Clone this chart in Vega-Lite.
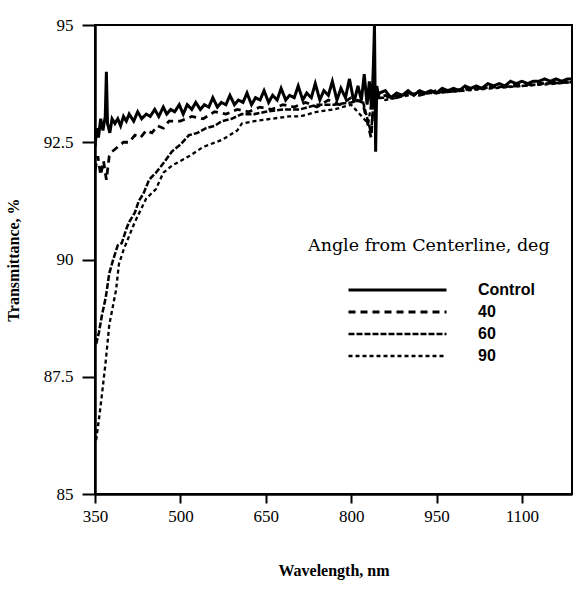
{
  "$schema": "https://vega.github.io/schema/vega-lite/v6.json",
  "width": 477,
  "height": 469,
  "autosize": {"type": "none"},
  "padding": {"left": 95, "top": 25, "right": 3, "bottom": 103},
  "background": "white",
  "config": {
    "view": {"stroke": "black", "strokeWidth": 2},
    "axis": {"grid": false, "domainColor": "black", "domainWidth": 2.5, "tickColor": "black", "tickWidth": 2, "labelColor": "black", "titleColor": "black", "labelFont": "Liberation Serif", "titleFont": "Liberation Serif"}
  },
  "data": {"values": [
    {"w": 350, "t": 92.4, "s": "Control"},
    {"w": 353, "t": 92.8, "s": "Control"},
    {"w": 356, "t": 92.6, "s": "Control"},
    {"w": 360, "t": 93.0, "s": "Control"},
    {"w": 364, "t": 92.75, "s": "Control"},
    {"w": 368, "t": 93.05, "s": "Control"},
    {"w": 370, "t": 94.0, "s": "Control"},
    {"w": 372, "t": 92.9, "s": "Control"},
    {"w": 376, "t": 92.7, "s": "Control"},
    {"w": 380, "t": 93.0, "s": "Control"},
    {"w": 385, "t": 92.9, "s": "Control"},
    {"w": 390, "t": 93.0, "s": "Control"},
    {"w": 395, "t": 92.85, "s": "Control"},
    {"w": 400, "t": 93.05, "s": "Control"},
    {"w": 405, "t": 92.95, "s": "Control"},
    {"w": 410, "t": 93.1, "s": "Control"},
    {"w": 418, "t": 92.95, "s": "Control"},
    {"w": 425, "t": 93.15, "s": "Control"},
    {"w": 432, "t": 93.0, "s": "Control"},
    {"w": 440, "t": 93.1, "s": "Control"},
    {"w": 447, "t": 93.05, "s": "Control"},
    {"w": 455, "t": 93.2, "s": "Control"},
    {"w": 462, "t": 93.05, "s": "Control"},
    {"w": 470, "t": 93.25, "s": "Control"},
    {"w": 476, "t": 93.1, "s": "Control"},
    {"w": 483, "t": 93.2, "s": "Control"},
    {"w": 490, "t": 93.15, "s": "Control"},
    {"w": 498, "t": 93.3, "s": "Control"},
    {"w": 505, "t": 93.1, "s": "Control"},
    {"w": 512, "t": 93.3, "s": "Control"},
    {"w": 520, "t": 93.2, "s": "Control"},
    {"w": 527, "t": 93.35, "s": "Control"},
    {"w": 535, "t": 93.2, "s": "Control"},
    {"w": 542, "t": 93.3, "s": "Control"},
    {"w": 550, "t": 93.25, "s": "Control"},
    {"w": 557, "t": 93.45, "s": "Control"},
    {"w": 565, "t": 93.25, "s": "Control"},
    {"w": 572, "t": 93.35, "s": "Control"},
    {"w": 580, "t": 93.3, "s": "Control"},
    {"w": 587, "t": 93.5, "s": "Control"},
    {"w": 595, "t": 93.3, "s": "Control"},
    {"w": 602, "t": 93.4, "s": "Control"},
    {"w": 610, "t": 93.35, "s": "Control"},
    {"w": 617, "t": 93.55, "s": "Control"},
    {"w": 625, "t": 93.3, "s": "Control"},
    {"w": 632, "t": 93.45, "s": "Control"},
    {"w": 640, "t": 93.4, "s": "Control"},
    {"w": 647, "t": 93.6, "s": "Control"},
    {"w": 655, "t": 93.35, "s": "Control"},
    {"w": 662, "t": 93.5, "s": "Control"},
    {"w": 670, "t": 93.4, "s": "Control"},
    {"w": 677, "t": 93.65, "s": "Control"},
    {"w": 685, "t": 93.4, "s": "Control"},
    {"w": 692, "t": 93.5, "s": "Control"},
    {"w": 700, "t": 93.45, "s": "Control"},
    {"w": 707, "t": 93.7, "s": "Control"},
    {"w": 715, "t": 93.4, "s": "Control"},
    {"w": 722, "t": 93.55, "s": "Control"},
    {"w": 730, "t": 93.45, "s": "Control"},
    {"w": 737, "t": 93.75, "s": "Control"},
    {"w": 745, "t": 93.4, "s": "Control"},
    {"w": 752, "t": 93.6, "s": "Control"},
    {"w": 760, "t": 93.5, "s": "Control"},
    {"w": 767, "t": 93.8, "s": "Control"},
    {"w": 775, "t": 93.4, "s": "Control"},
    {"w": 782, "t": 93.65, "s": "Control"},
    {"w": 790, "t": 93.45, "s": "Control"},
    {"w": 797, "t": 93.85, "s": "Control"},
    {"w": 805, "t": 93.35, "s": "Control"},
    {"w": 812, "t": 93.7, "s": "Control"},
    {"w": 818, "t": 93.4, "s": "Control"},
    {"w": 823, "t": 93.95, "s": "Control"},
    {"w": 828, "t": 93.3, "s": "Control"},
    {"w": 832, "t": 93.8, "s": "Control"},
    {"w": 836, "t": 93.2, "s": "Control"},
    {"w": 839, "t": 94.1, "s": "Control"},
    {"w": 841, "t": 95.0, "s": "Control"},
    {"w": 843, "t": 92.3, "s": "Control"},
    {"w": 845, "t": 93.7, "s": "Control"},
    {"w": 848, "t": 93.5, "s": "Control"},
    {"w": 850, "t": 93.55, "s": "Control"},
    {"w": 860, "t": 93.6, "s": "Control"},
    {"w": 870, "t": 93.45, "s": "Control"},
    {"w": 880, "t": 93.55, "s": "Control"},
    {"w": 890, "t": 93.5, "s": "Control"},
    {"w": 900, "t": 93.6, "s": "Control"},
    {"w": 910, "t": 93.5, "s": "Control"},
    {"w": 920, "t": 93.6, "s": "Control"},
    {"w": 930, "t": 93.55, "s": "Control"},
    {"w": 940, "t": 93.6, "s": "Control"},
    {"w": 950, "t": 93.55, "s": "Control"},
    {"w": 960, "t": 93.65, "s": "Control"},
    {"w": 970, "t": 93.6, "s": "Control"},
    {"w": 980, "t": 93.65, "s": "Control"},
    {"w": 990, "t": 93.6, "s": "Control"},
    {"w": 1000, "t": 93.7, "s": "Control"},
    {"w": 1010, "t": 93.65, "s": "Control"},
    {"w": 1020, "t": 93.7, "s": "Control"},
    {"w": 1030, "t": 93.65, "s": "Control"},
    {"w": 1040, "t": 93.75, "s": "Control"},
    {"w": 1050, "t": 93.7, "s": "Control"},
    {"w": 1060, "t": 93.75, "s": "Control"},
    {"w": 1070, "t": 93.7, "s": "Control"},
    {"w": 1080, "t": 93.8, "s": "Control"},
    {"w": 1090, "t": 93.75, "s": "Control"},
    {"w": 1100, "t": 93.8, "s": "Control"},
    {"w": 1110, "t": 93.75, "s": "Control"},
    {"w": 1120, "t": 93.8, "s": "Control"},
    {"w": 1130, "t": 93.8, "s": "Control"},
    {"w": 1140, "t": 93.85, "s": "Control"},
    {"w": 1150, "t": 93.8, "s": "Control"},
    {"w": 1160, "t": 93.85, "s": "Control"},
    {"w": 1170, "t": 93.8, "s": "Control"},
    {"w": 1180, "t": 93.85, "s": "Control"},
    {"w": 1188, "t": 93.85, "s": "Control"},

    {"w": 350, "t": 91.9, "s": "40"},
    {"w": 355, "t": 92.2, "s": "40"},
    {"w": 360, "t": 91.8, "s": "40"},
    {"w": 365, "t": 92.1, "s": "40"},
    {"w": 370, "t": 91.7, "s": "40"},
    {"w": 375, "t": 92.2, "s": "40"},
    {"w": 380, "t": 92.3, "s": "40"},
    {"w": 390, "t": 92.4, "s": "40"},
    {"w": 400, "t": 92.5, "s": "40"},
    {"w": 410, "t": 92.5, "s": "40"},
    {"w": 420, "t": 92.65, "s": "40"},
    {"w": 430, "t": 92.6, "s": "40"},
    {"w": 440, "t": 92.75, "s": "40"},
    {"w": 450, "t": 92.7, "s": "40"},
    {"w": 460, "t": 92.85, "s": "40"},
    {"w": 470, "t": 92.8, "s": "40"},
    {"w": 480, "t": 92.95, "s": "40"},
    {"w": 500, "t": 92.95, "s": "40"},
    {"w": 520, "t": 93.05, "s": "40"},
    {"w": 540, "t": 93.0, "s": "40"},
    {"w": 560, "t": 93.15, "s": "40"},
    {"w": 580, "t": 93.1, "s": "40"},
    {"w": 600, "t": 93.2, "s": "40"},
    {"w": 620, "t": 93.15, "s": "40"},
    {"w": 640, "t": 93.25, "s": "40"},
    {"w": 660, "t": 93.2, "s": "40"},
    {"w": 680, "t": 93.3, "s": "40"},
    {"w": 700, "t": 93.25, "s": "40"},
    {"w": 720, "t": 93.35, "s": "40"},
    {"w": 740, "t": 93.25, "s": "40"},
    {"w": 760, "t": 93.4, "s": "40"},
    {"w": 780, "t": 93.3, "s": "40"},
    {"w": 800, "t": 93.45, "s": "40"},
    {"w": 820, "t": 93.35, "s": "40"},
    {"w": 835, "t": 92.6, "s": "40"},
    {"w": 840, "t": 93.5, "s": "40"},
    {"w": 850, "t": 93.45, "s": "40"},
    {"w": 860, "t": 93.5, "s": "40"},
    {"w": 880, "t": 93.45, "s": "40"},
    {"w": 900, "t": 93.55, "s": "40"},
    {"w": 920, "t": 93.5, "s": "40"},
    {"w": 950, "t": 93.6, "s": "40"},
    {"w": 980, "t": 93.6, "s": "40"},
    {"w": 1000, "t": 93.65, "s": "40"},
    {"w": 1030, "t": 93.65, "s": "40"},
    {"w": 1060, "t": 93.7, "s": "40"},
    {"w": 1100, "t": 93.72, "s": "40"},
    {"w": 1130, "t": 93.75, "s": "40"},
    {"w": 1160, "t": 93.78, "s": "40"},
    {"w": 1188, "t": 93.8, "s": "40"},

    {"w": 352, "t": 88.2, "s": "60"},
    {"w": 357, "t": 88.45, "s": "60"},
    {"w": 362, "t": 88.8, "s": "60"},
    {"w": 369, "t": 89.2, "s": "60"},
    {"w": 375, "t": 89.7, "s": "60"},
    {"w": 382, "t": 90.0, "s": "60"},
    {"w": 390, "t": 90.3, "s": "60"},
    {"w": 397, "t": 90.35, "s": "60"},
    {"w": 405, "t": 90.65, "s": "60"},
    {"w": 410, "t": 90.8, "s": "60"},
    {"w": 420, "t": 91.0, "s": "60"},
    {"w": 427, "t": 91.25, "s": "60"},
    {"w": 435, "t": 91.4, "s": "60"},
    {"w": 445, "t": 91.7, "s": "60"},
    {"w": 457, "t": 91.85, "s": "60"},
    {"w": 470, "t": 92.05, "s": "60"},
    {"w": 485, "t": 92.3, "s": "60"},
    {"w": 500, "t": 92.45, "s": "60"},
    {"w": 515, "t": 92.65, "s": "60"},
    {"w": 530, "t": 92.7, "s": "60"},
    {"w": 545, "t": 92.8, "s": "60"},
    {"w": 560, "t": 92.85, "s": "60"},
    {"w": 573, "t": 92.95, "s": "60"},
    {"w": 590, "t": 93.0, "s": "60"},
    {"w": 608, "t": 93.1, "s": "60"},
    {"w": 630, "t": 93.1, "s": "60"},
    {"w": 650, "t": 93.15, "s": "60"},
    {"w": 680, "t": 93.2, "s": "60"},
    {"w": 710, "t": 93.2, "s": "60"},
    {"w": 740, "t": 93.3, "s": "60"},
    {"w": 770, "t": 93.3, "s": "60"},
    {"w": 800, "t": 93.35, "s": "60"},
    {"w": 820, "t": 93.4, "s": "60"},
    {"w": 835, "t": 92.7, "s": "60"},
    {"w": 840, "t": 93.45, "s": "60"},
    {"w": 850, "t": 93.45, "s": "60"},
    {"w": 860, "t": 93.45, "s": "60"},
    {"w": 890, "t": 93.5, "s": "60"},
    {"w": 920, "t": 93.55, "s": "60"},
    {"w": 950, "t": 93.55, "s": "60"},
    {"w": 990, "t": 93.6, "s": "60"},
    {"w": 1020, "t": 93.65, "s": "60"},
    {"w": 1060, "t": 93.68, "s": "60"},
    {"w": 1100, "t": 93.7, "s": "60"},
    {"w": 1140, "t": 93.75, "s": "60"},
    {"w": 1188, "t": 93.78, "s": "60"},

    {"w": 352, "t": 86.15, "s": "90"},
    {"w": 357, "t": 86.6, "s": "90"},
    {"w": 362, "t": 87.1, "s": "90"},
    {"w": 369, "t": 87.85, "s": "90"},
    {"w": 375, "t": 88.6, "s": "90"},
    {"w": 387, "t": 89.35, "s": "90"},
    {"w": 392, "t": 89.9, "s": "90"},
    {"w": 400, "t": 90.2, "s": "90"},
    {"w": 410, "t": 90.5, "s": "90"},
    {"w": 420, "t": 90.8, "s": "90"},
    {"w": 430, "t": 91.05, "s": "90"},
    {"w": 440, "t": 91.3, "s": "90"},
    {"w": 457, "t": 91.5, "s": "90"},
    {"w": 470, "t": 91.85, "s": "90"},
    {"w": 485, "t": 92.0, "s": "90"},
    {"w": 500, "t": 92.1, "s": "90"},
    {"w": 515, "t": 92.2, "s": "90"},
    {"w": 540, "t": 92.4, "s": "90"},
    {"w": 573, "t": 92.55, "s": "90"},
    {"w": 600, "t": 92.75, "s": "90"},
    {"w": 608, "t": 92.9, "s": "90"},
    {"w": 630, "t": 92.95, "s": "90"},
    {"w": 660, "t": 93.0, "s": "90"},
    {"w": 690, "t": 93.05, "s": "90"},
    {"w": 710, "t": 93.05, "s": "90"},
    {"w": 740, "t": 93.15, "s": "90"},
    {"w": 770, "t": 93.2, "s": "90"},
    {"w": 800, "t": 93.3, "s": "90"},
    {"w": 830, "t": 92.9, "s": "90"},
    {"w": 835, "t": 93.3, "s": "90"},
    {"w": 850, "t": 93.45, "s": "90"},
    {"w": 860, "t": 93.4, "s": "90"},
    {"w": 900, "t": 93.5, "s": "90"},
    {"w": 940, "t": 93.55, "s": "90"},
    {"w": 980, "t": 93.58, "s": "90"},
    {"w": 1020, "t": 93.62, "s": "90"},
    {"w": 1060, "t": 93.66, "s": "90"},
    {"w": 1100, "t": 93.7, "s": "90"},
    {"w": 1150, "t": 93.74, "s": "90"},
    {"w": 1188, "t": 93.78, "s": "90"}
  ]},
  "mark": {"type": "line", "color": "black", "clip": true},
  "encoding": {
    "x": {
      "field": "w", "type": "quantitative",
      "scale": {"domain": [350, 1188], "nice": false, "zero": false},
      "axis": {"title": "Wavelength, nm", "values": [350, 500, 650, 800, 950, 1100], "format": "d", "tickSize": 9, "labelPadding": 5, "labelFontSize": 17, "titleFontSize": 16, "titleFontWeight": "bold", "titlePadding": 38, "labelFlush": false}
    },
    "y": {
      "field": "t", "type": "quantitative",
      "scale": {"domain": [85, 95], "nice": false, "zero": false},
      "axis": {"title": "Transmittance, %", "values": [85, 87.5, 90, 92.5, 95], "format": ".1~f", "tickSize": 13, "labelPadding": 9, "labelFontSize": 17, "titleFontSize": 16, "titleFontWeight": "bold", "titlePadding": 22, "labelFlush": false}
    },
    "strokeWidth": {
      "field": "s", "type": "nominal",
      "scale": {"domain": ["Control", "40", "60", "90"], "range": [3, 2.3, 2.3, 2.3]},
      "legend": null
    },
    "strokeDash": {
      "field": "s", "type": "nominal",
      "scale": {"domain": ["Control", "40", "60", "90"], "range": [[1, 0], [7, 5], [6, 2], [4, 3]]},
      "legend": {
        "title": "Angle from Centerline, deg",
        "orient": "none", "legendX": 213, "legendY": 212,
        "padding": 0,
        "titleFont": "DejaVu Serif", "titleFontSize": 17.5, "titleFontWeight": "normal", "titleColor": "black", "titlePadding": 24, "titleLimit": 400,
        "labelFont": "Liberation Sans", "labelFontSize": 16, "labelFontWeight": "bold", "labelColor": "black", "labelOffset": 69,
        "symbolType": "M-4.9,0H4.9", "symbolSize": 400, "symbolStrokeWidth": 2.5, "symbolStrokeColor": "black", "symbolOffset": 78,
        "rowPadding": 2
      }
    }
  }
}
